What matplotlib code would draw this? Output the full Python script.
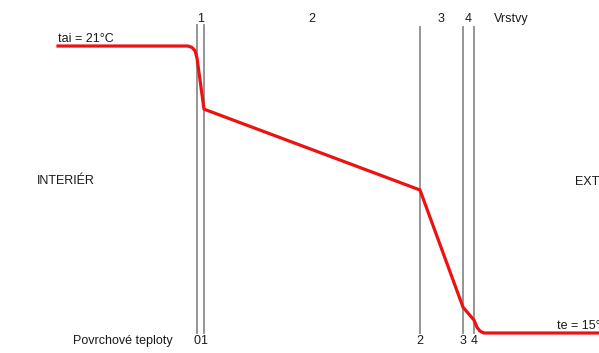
import numpy as np
import matplotlib.pyplot as plt
from matplotlib.transforms import blended_transform_factory

plt.rcParams['font.family'] = ['Liberation Sans', 'DejaVu Sans']

# interface positions (drawing units along the wall) and layer numbers
boundaries = [197, 204, 420, 463, 474]
boundary_labels = ['0', '1', '2', '3', '4']
layer_labels = ['1', '2', '3', '4']

# temperature profile through the wall
prof_x = [58, 188, 192, 195, 197, 204, 420, 463, 474, 477, 480, 484, 599]
prof_t = [21.0, 21.0, 20.97, 20.9, 20.75, 19.68, 17.99, 15.54, 15.27, 15.12, 15.04, 15.0, 15.0]

tai = 21
te = 15

fig = plt.figure(figsize=(5.99, 3.53), dpi=100)
ax = fig.add_axes([0, 0, 1, 1])
ax.set_xlim(0, 599)
ax.set_ylim(14.582, 21.962)
ax.axis('off')

trans = blended_transform_factory(ax.transData, ax.transAxes)
fs = 9
tc = '#1a1a1a'

for i, xb in enumerate(boundaries):
    top = 0.929 if i < 2 else 0.923
    ax.axvline(xb, ymin=0.057, ymax=top, color='#8c8c8c', lw=1.3, zorder=1)

ax.plot(prof_x, prof_t, color='#ee1111', lw=2.3, solid_joinstyle='round', zorder=2)

# layer numbers at top, centred in each layer
for k, lab in enumerate(layer_labels):
    xm = (boundaries[k] + boundaries[k + 1]) / 2
    ax.text(xm, 1 - 19 / 353, lab, transform=trans, fontsize=fs, color=tc, ha='center', va='center')
ax.text(494, 1 - 19 / 353, 'Vrstvy', transform=trans, fontsize=fs, color=tc, ha='left', va='center')

# surface temperature labels at bottom
ax.text(173, 1 - 341 / 353, 'Povrchové teploty', transform=trans, fontsize=fs, color=tc, ha='right', va='center')
for xb, lab in zip(boundaries, boundary_labels):
    ax.text(xb, 1 - 341 / 353, lab, transform=trans, fontsize=fs, color=tc, ha='center', va='center')

ax.text(58, 1 - 39 / 353, 'tai = %d°C' % tai, transform=trans, fontsize=fs, color=tc, ha='left', va='center')
ax.text(557, 1 - 326 / 353, 'te = %d°C' % te, transform=trans, fontsize=fs, color=tc, ha='left', va='center')
ax.text(37, 1 - 181 / 353, 'INTERIÉR', transform=trans, fontsize=fs, color=tc, ha='left', va='center')
ax.text(575, 1 - 182 / 353, 'EXTERIÉR', transform=trans, fontsize=fs, color=tc, ha='left', va='center')

fig.savefig('out.png', dpi=100)
